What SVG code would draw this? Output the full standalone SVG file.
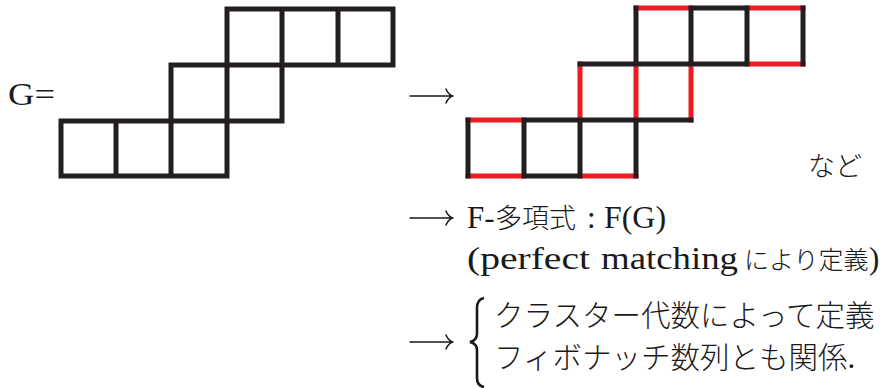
<svg xmlns="http://www.w3.org/2000/svg" width="880" height="388" viewBox="0 0 880 388">
<style>
.bk{stroke:#231f20;stroke-width:5;stroke-linecap:square;fill:none}
.rd{stroke:#ed1c24;stroke-width:5;stroke-linecap:square;fill:none}
.lat{font-family:"Liberation Serif","DejaVu Serif",serif;font-size:31px;fill:#1a1a1a}
.cjk{font-family:"Noto Sans CJK JP",sans-serif;font-size:28px;font-weight:300;fill:#1a1a1a}
.arr{stroke:#1a1a1a;stroke-width:1.5;fill:none;stroke-linecap:round}
</style>
<rect width="880" height="388" fill="#fff"/>

<g id="label-G">
<text class="lat" x="8" y="105" textLength="47" lengthAdjust="spacingAndGlyphs">G=</text>
</g>

<g id="graph-G">
<path class="bk" d="M227,9H393 M171,65H393 M61,121H282 M61,176H227
M227,9V65 M282,9V65 M338,9V65 M393,9V65
M171,65V121 M227,65V121 M282,65V121
M61,121V176 M116,121V176 M171,121V176 M227,121V176"/>
</g>

<g id="graph-matching">
<path class="rd" d="M636,8H691 M747,8H803 M747,64H803 M468,120H524 M468,176H524 M580,176H636
M580,64V120 M636,64V120 M691,64V120"/>
<path class="bk" d="M691,8H747 M580,64H747 M524,120H691 M524,176H580
M636,8V64 M691,8V64 M747,8V64 M803,8V64
M468,120V176 M524,120V176 M580,120V176 M636,120V176"/>
</g>

<g id="connectors">
<path class="arr" d="M410,96H452 M446,89Q448,94 452.5,96Q448,98 446,103"/>
<path class="arr" d="M410,218H452 M446,211Q448,216 452.5,218Q448,220 446,225"/>
<path class="arr" d="M410,342H452 M446,335Q448,340 452.5,342Q448,344 446,349"/>
</g>

<g id="label-nado">
<text class="cjk" x="808" y="176" style="font-size:27px">など</text>
</g>

<g id="label-fpoly">
<text class="lat" x="467" y="228">F-</text>
<text class="cjk" x="495" y="228" style="font-size:27px">多項式</text>
<text class="lat" x="587" y="228">:</text>
<text class="lat" x="604" y="228" textLength="62" lengthAdjust="spacingAndGlyphs">F(G)</text>
</g>

<g id="label-perfect">
<text class="lat" x="467" y="269" textLength="123" lengthAdjust="spacingAndGlyphs">(perfect</text>
<text class="lat" x="601" y="269" textLength="137" lengthAdjust="spacingAndGlyphs">matching</text>
<text class="cjk" x="744" y="269" style="font-size:25px">により定義</text>
<text class="lat" x="869" y="269">)</text>
</g>

<g id="brace">
<path d="M484,298C479,299 477,302 477,308V334C477,339 474,341 470,342C474,343 477,345 477,350V378C477,383 479,386 484,387" fill="none" stroke="#1a1a1a" stroke-width="2.6"/>
</g>

<g id="label-cluster">
<text class="cjk" x="494" y="326" style="font-size:29.5px">クラスター代数によって定義</text>
</g>
<g id="label-fib">
<text class="cjk" x="494" y="368" style="font-size:29.5px">フィボナッチ数列とも関係<tspan class="lat">.</tspan></text>
</g>
</svg>
